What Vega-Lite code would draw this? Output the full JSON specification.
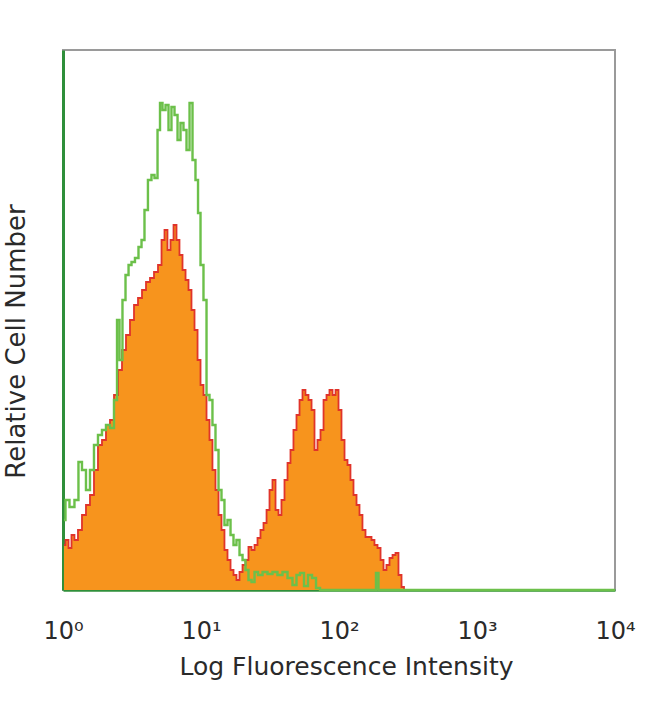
{
  "$schema": "https://vega.github.io/schema/vega-lite/v6.json",
  "width": 552,
  "height": 540,
  "autosize": "none",
  "padding": {"left": 63, "top": 50, "right": 35, "bottom": 114},
  "background": "white",
  "config": {
    "view": {"stroke": "#9a9a9a", "strokeWidth": 2},
    "font": "DejaVu Sans"
  },
  "datasets": {
    "green": [
      {"decade": 0.007, "count": 70}, {"decade": 0.029, "count": 90}, {"decade": 0.065, "count": 83},
      {"decade": 0.101, "count": 90}, {"decade": 0.123, "count": 128}, {"decade": 0.152, "count": 120},
      {"decade": 0.181, "count": 100}, {"decade": 0.21, "count": 120}, {"decade": 0.239, "count": 145},
      {"decade": 0.268, "count": 155}, {"decade": 0.297, "count": 160}, {"decade": 0.326, "count": 165},
      {"decade": 0.355, "count": 162}, {"decade": 0.384, "count": 190}, {"decade": 0.399, "count": 270},
      {"decade": 0.42, "count": 230}, {"decade": 0.442, "count": 290}, {"decade": 0.464, "count": 315},
      {"decade": 0.486, "count": 325}, {"decade": 0.507, "count": 328}, {"decade": 0.536, "count": 332},
      {"decade": 0.558, "count": 343}, {"decade": 0.58, "count": 350}, {"decade": 0.601, "count": 380},
      {"decade": 0.63, "count": 410}, {"decade": 0.652, "count": 415}, {"decade": 0.674, "count": 412},
      {"decade": 0.696, "count": 460}, {"decade": 0.71, "count": 487}, {"decade": 0.732, "count": 480},
      {"decade": 0.754, "count": 485}, {"decade": 0.775, "count": 460}, {"decade": 0.797, "count": 483},
      {"decade": 0.819, "count": 475}, {"decade": 0.841, "count": 450}, {"decade": 0.862, "count": 467},
      {"decade": 0.884, "count": 460}, {"decade": 0.906, "count": 440}, {"decade": 0.928, "count": 487},
      {"decade": 0.949, "count": 430}, {"decade": 0.971, "count": 410}, {"decade": 0.986, "count": 377},
      {"decade": 1.007, "count": 325}, {"decade": 1.029, "count": 290}, {"decade": 1.051, "count": 195},
      {"decade": 1.072, "count": 190}, {"decade": 1.094, "count": 165}, {"decade": 1.116, "count": 140},
      {"decade": 1.138, "count": 100}, {"decade": 1.159, "count": 90}, {"decade": 1.181, "count": 65},
      {"decade": 1.203, "count": 70}, {"decade": 1.225, "count": 55}, {"decade": 1.246, "count": 45},
      {"decade": 1.268, "count": 50}, {"decade": 1.29, "count": 35}, {"decade": 1.312, "count": 30},
      {"decade": 1.333, "count": 20}, {"decade": 1.355, "count": 10}, {"decade": 1.377, "count": 8},
      {"decade": 1.399, "count": 18}, {"decade": 1.428, "count": 15}, {"decade": 1.464, "count": 18},
      {"decade": 1.5, "count": 16}, {"decade": 1.536, "count": 18}, {"decade": 1.572, "count": 15},
      {"decade": 1.609, "count": 18}, {"decade": 1.645, "count": 12}, {"decade": 1.681, "count": 5},
      {"decade": 1.703, "count": 15}, {"decade": 1.732, "count": 17}, {"decade": 1.761, "count": 4},
      {"decade": 1.79, "count": 15}, {"decade": 1.819, "count": 12}, {"decade": 1.848, "count": 2},
      {"decade": 1.877, "count": 0}, {"decade": 2.261, "count": 0}, {"decade": 2.275, "count": 17},
      {"decade": 2.297, "count": 0}, {"decade": 4.0, "count": 0}
    ],
    "red": [
      {"decade": 0.007, "count": 45}, {"decade": 0.029, "count": 50}, {"decade": 0.051, "count": 42},
      {"decade": 0.072, "count": 55}, {"decade": 0.094, "count": 50}, {"decade": 0.123, "count": 60},
      {"decade": 0.152, "count": 75}, {"decade": 0.181, "count": 85}, {"decade": 0.21, "count": 95},
      {"decade": 0.239, "count": 120}, {"decade": 0.268, "count": 145}, {"decade": 0.297, "count": 150},
      {"decade": 0.326, "count": 165}, {"decade": 0.355, "count": 170}, {"decade": 0.384, "count": 195},
      {"decade": 0.413, "count": 220}, {"decade": 0.442, "count": 240}, {"decade": 0.471, "count": 255},
      {"decade": 0.5, "count": 270}, {"decade": 0.529, "count": 285}, {"decade": 0.558, "count": 292},
      {"decade": 0.587, "count": 300}, {"decade": 0.616, "count": 308}, {"decade": 0.645, "count": 312},
      {"decade": 0.674, "count": 318}, {"decade": 0.703, "count": 325}, {"decade": 0.725, "count": 350},
      {"decade": 0.746, "count": 360}, {"decade": 0.768, "count": 340}, {"decade": 0.79, "count": 350},
      {"decade": 0.812, "count": 365}, {"decade": 0.833, "count": 350}, {"decade": 0.855, "count": 335},
      {"decade": 0.877, "count": 320}, {"decade": 0.899, "count": 310}, {"decade": 0.92, "count": 300},
      {"decade": 0.942, "count": 280}, {"decade": 0.964, "count": 260}, {"decade": 0.986, "count": 230},
      {"decade": 1.007, "count": 205}, {"decade": 1.029, "count": 195}, {"decade": 1.051, "count": 170},
      {"decade": 1.072, "count": 150}, {"decade": 1.094, "count": 120}, {"decade": 1.116, "count": 100},
      {"decade": 1.138, "count": 75}, {"decade": 1.159, "count": 60}, {"decade": 1.181, "count": 40},
      {"decade": 1.203, "count": 30}, {"decade": 1.225, "count": 20}, {"decade": 1.246, "count": 15},
      {"decade": 1.268, "count": 10}, {"decade": 1.29, "count": 18}, {"decade": 1.312, "count": 25},
      {"decade": 1.333, "count": 30}, {"decade": 1.355, "count": 43}, {"decade": 1.377, "count": 40},
      {"decade": 1.399, "count": 45}, {"decade": 1.42, "count": 52}, {"decade": 1.442, "count": 60},
      {"decade": 1.464, "count": 67}, {"decade": 1.486, "count": 80}, {"decade": 1.507, "count": 100},
      {"decade": 1.529, "count": 110}, {"decade": 1.551, "count": 80}, {"decade": 1.572, "count": 75},
      {"decade": 1.594, "count": 90}, {"decade": 1.616, "count": 110}, {"decade": 1.638, "count": 127},
      {"decade": 1.659, "count": 140}, {"decade": 1.681, "count": 160}, {"decade": 1.703, "count": 175},
      {"decade": 1.725, "count": 190}, {"decade": 1.746, "count": 200}, {"decade": 1.768, "count": 195},
      {"decade": 1.79, "count": 190}, {"decade": 1.812, "count": 180}, {"decade": 1.833, "count": 140},
      {"decade": 1.855, "count": 150}, {"decade": 1.877, "count": 160}, {"decade": 1.899, "count": 190},
      {"decade": 1.92, "count": 195}, {"decade": 1.942, "count": 200}, {"decade": 1.964, "count": 195},
      {"decade": 1.986, "count": 200}, {"decade": 2.007, "count": 180}, {"decade": 2.029, "count": 150},
      {"decade": 2.051, "count": 130}, {"decade": 2.072, "count": 125}, {"decade": 2.094, "count": 110},
      {"decade": 2.116, "count": 95}, {"decade": 2.138, "count": 85}, {"decade": 2.159, "count": 75},
      {"decade": 2.181, "count": 60}, {"decade": 2.203, "count": 53}, {"decade": 2.225, "count": 53},
      {"decade": 2.246, "count": 50}, {"decade": 2.268, "count": 45}, {"decade": 2.29, "count": 42},
      {"decade": 2.312, "count": 30}, {"decade": 2.333, "count": 20}, {"decade": 2.355, "count": 25},
      {"decade": 2.377, "count": 32}, {"decade": 2.399, "count": 35}, {"decade": 2.42, "count": 37},
      {"decade": 2.442, "count": 15}, {"decade": 2.464, "count": 3}, {"decade": 2.478, "count": 0}
    ]
  },
  "encoding": {
    "x": {
      "field": "decade", "type": "quantitative",
      "scale": {"domain": [0, 4], "nice": false, "zero": false},
      "axis": {
        "values": [0, 1, 2, 3, 4],
        "labelExpr": "['10⁰','10¹','10²','10³','10⁴'][datum.value]",
        "labelFlush": false,
        "ticks": false, "grid": false,
        "domainColor": "#2f8f3a", "domainWidth": 2.5,
        "labelFontSize": 24, "labelColor": "#2a2a2a", "labelPadding": 29,
        "labelFont": "DejaVu Sans",
        "title": "Log Fluorescence Intensity", "titleFontSize": 25, "titleFontWeight": "normal",
        "titleColor": "#2a2a2a", "titlePadding": 11, "titleFont": "DejaVu Sans",
        "titleX": 283
      }
    },
    "y": {
      "field": "count", "type": "quantitative",
      "scale": {"domain": [0, 540], "nice": false},
      "axis": {
        "labels": false, "ticks": false, "grid": false,
        "domainColor": "#2f8f3a", "domainWidth": 3,
        "title": "Relative Cell Number", "titleFontSize": 26, "titleFontWeight": "normal",
        "titleColor": "#2a2a2a", "titlePadding": 34, "titleFont": "DejaVu Sans",
        "titleY": 291
      }
    }
  },
  "layer": [
    {
      "data": {"name": "red"},
      "mark": {"type": "area", "interpolate": "step", "color": "#f7941d", "opacity": 1}
    },
    {
      "data": {"name": "red"},
      "mark": {"type": "line", "interpolate": "step", "color": "#e0342a", "strokeWidth": 1.8}
    },
    {
      "data": {"name": "green"},
      "mark": {"type": "line", "interpolate": "step", "color": "#6cc04a", "strokeWidth": 2.4}
    }
  ]
}
